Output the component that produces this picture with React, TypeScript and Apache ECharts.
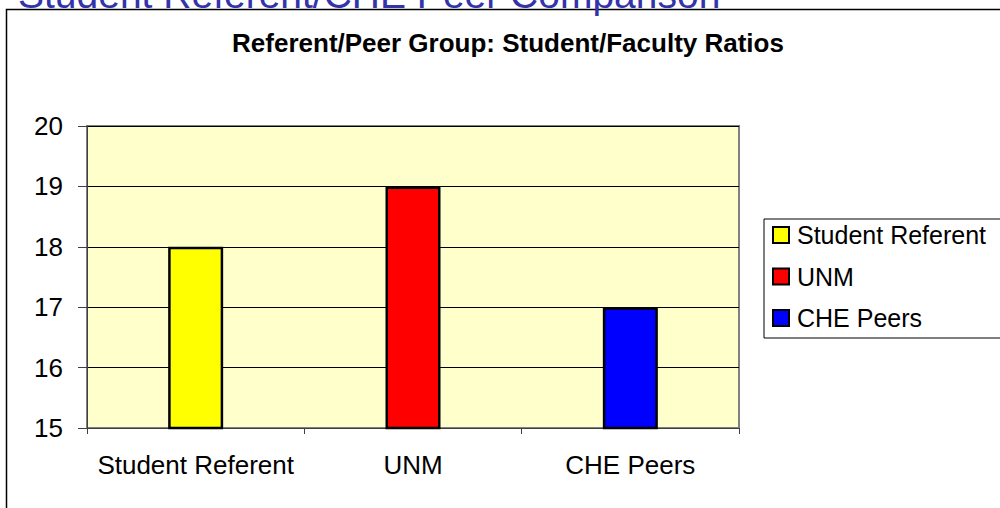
import React, { useEffect, useRef } from "react";
import * as echarts from "echarts";

const categories = ["Student Referent", "UNM", "CHE Peers"];
const ratios = [18, 19, 17];
const barColors = ["#FFFF00", "#FF0000", "#0000FF"];
const yTicks = { min: 15, max: 20, interval: 1 };
const pageTitle = "Student Referent/CHE Peer Comparison";
const chartTitle = "Referent/Peer Group: Student/Faculty Ratios";

export default function App() {
  const ref = useRef<HTMLDivElement>(null);
  useEffect(() => {
    if (!ref.current) return;
    const chart = echarts.init(ref.current, null, { renderer: "svg" });
    const font = "Arial, 'Liberation Sans', sans-serif";
    const series = categories.map((name, i) => ({
      name,
      type: "bar",
      barWidth: 55,
      barGap: "-100%",
      data: categories.map((_, j) => (j === i ? ratios[i] : "-")),
      itemStyle: { color: barColors[i], borderColor: "#000", borderWidth: 2.5 },
      z: 3,
    }));
    chart.setOption({
      animation: false,
      backgroundColor: "#fff",
      textStyle: { fontFamily: font },
      grid: {
        left: 87,
        right: 261,
        top: 126,
        bottom: 80,
        show: true,
        backgroundColor: "#FFFFCC",
        borderColor: "#808080",
        borderWidth: 2,
      },
      xAxis: {
        type: "category",
        data: categories,
        boundaryGap: true,
        axisLine: { show: true, lineStyle: { color: "#404040", width: 1 } },
        axisTick: { show: true, interval: 0, length: 6, lineStyle: { color: "#404040" } },
        axisLabel: { color: "#000", fontSize: 26, fontFamily: font, margin: 24, interval: 0 },
      },
      yAxis: {
        type: "value",
        min: yTicks.min,
        max: yTicks.max,
        interval: yTicks.interval,
        axisLine: { show: true, lineStyle: { color: "#404040", width: 1 } },
        axisTick: { show: true, length: 9, lineStyle: { color: "#404040" } },
        axisLabel: { color: "#000", fontSize: 26, fontFamily: font, margin: 24 },
        splitLine: { show: true, lineStyle: { color: "#000", width: 1 } },
      },
      legend: {
        orient: "vertical",
        left: 764,
        top: 219,
        icon: "rect",
        itemWidth: 16,
        itemHeight: 16,
        itemGap: 15.5,
        padding: [3, 30, 7, 8],
        borderColor: "#000",
        borderWidth: 1,
        backgroundColor: "#fff",
        textStyle: { color: "#000", fontSize: 25, fontFamily: font, lineHeight: 26, padding: [0, 0, 0, 3] },
        data: categories,
      },
      graphic: [
        {
          type: "rect",
          shape: { x: 6.5, y: 9.5, width: 1200, height: 700 },
          style: { fill: "none", stroke: "#000", lineWidth: 1.5 },
          silent: true,
          z: -10,
        },
        {
          type: "text",
          x: 18,
          y: -6,
          style: {
            text: pageTitle,
            fill: "#3333AA",
            font: `39px ${font}`,
            align: "left",
            verticalAlign: "middle",
          },
          silent: true,
        },
        {
          type: "text",
          x: 508,
          y: 43,
          style: {
            text: chartTitle,
            fill: "#000",
            font: `bold 26px ${font}`,
            align: "center",
            verticalAlign: "middle",
          },
          silent: true,
        },
      ],
      series,
    });
    return () => chart.dispose();
  }, []);
  return (
    <div
      ref={ref}
      style={{ position: "absolute", left: 0, top: 0, width: 1000, height: 508 }}
    />
  );
}
